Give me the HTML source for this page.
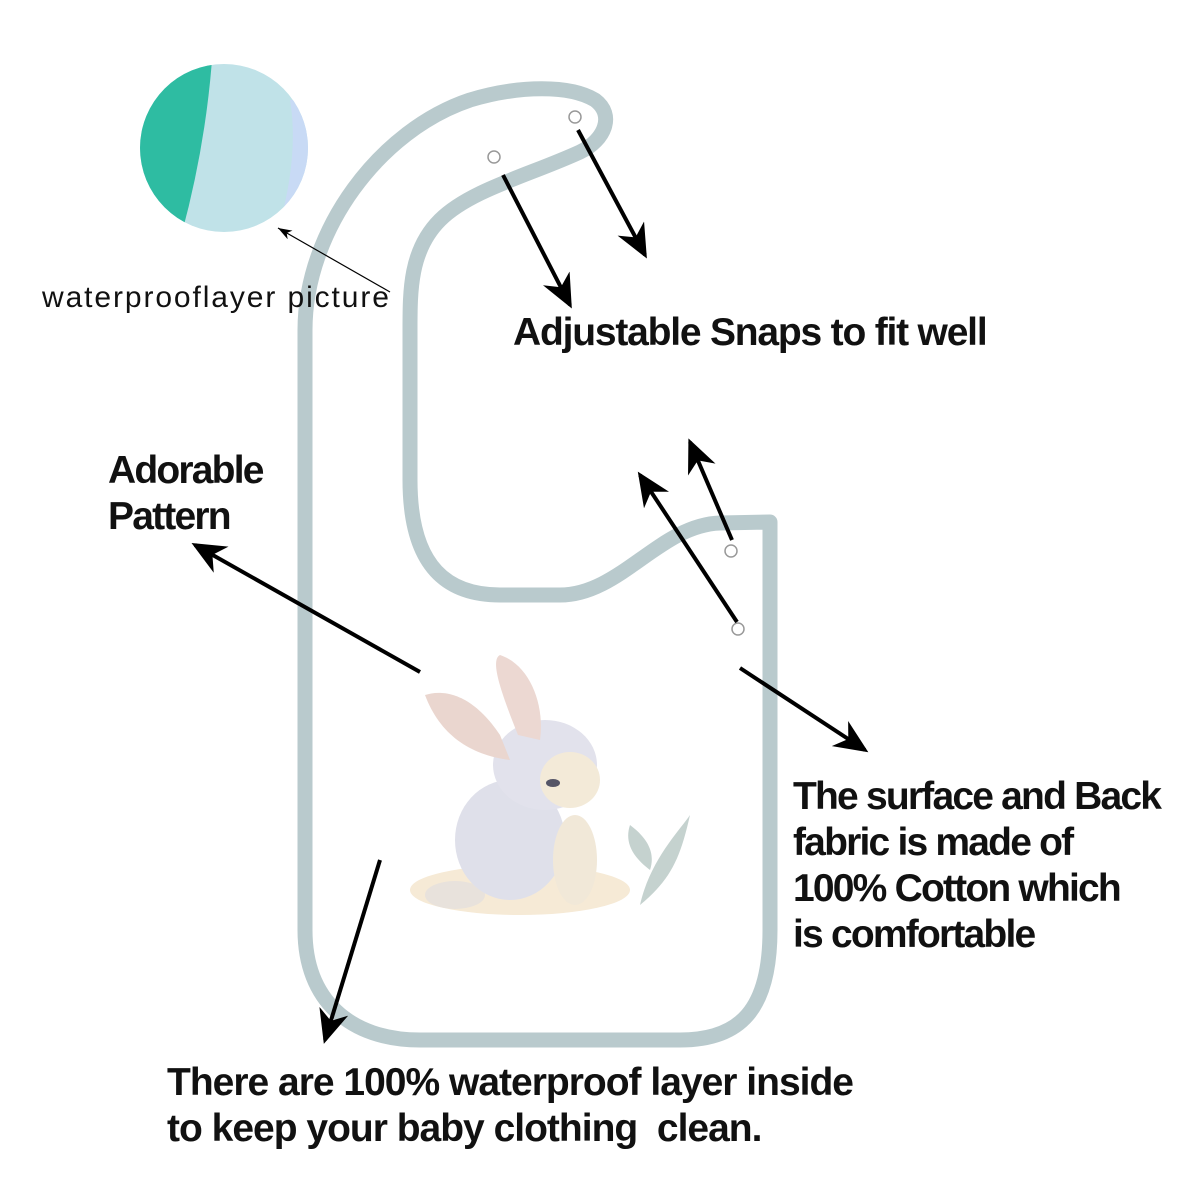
<!DOCTYPE html>
<html><head><style>
html,body{margin:0;padding:0;background:#fff}
.t{position:absolute;font-family:"Liberation Sans",sans-serif;color:#111;white-space:nowrap}
.b{font-size:39px;letter-spacing:-1.8px;line-height:46px;font-weight:bold}
</style></head><body>
<div style="position:relative;width:1200px;height:1200px;overflow:hidden">
<svg width="1200" height="1200" style="position:absolute;left:0;top:0">
<defs>
<clipPath id="c"><circle cx="224" cy="148" r="84"/></clipPath>
<marker id="a" markerWidth="34" markerHeight="30" refX="30" refY="15" orient="auto" markerUnits="userSpaceOnUse" viewBox="0 0 34 30"><path d="M0,0 L34,15 L0,30 L10,15z" fill="#000"/></marker>
<marker id="s" markerWidth="14" markerHeight="10" refX="0" refY="5" orient="auto" markerUnits="userSpaceOnUse" viewBox="0 0 14 10"><path d="M0,5 L14,0 L10,5 L14,10z" fill="#000"/></marker>
</defs>
<g clip-path="url(#c)">
<rect x="130" y="60" width="190" height="180" fill="#c0e2e8"/>
<path d="M130,60 L212,60 Q205,150 180,240 L130,240z" fill="#2ebca2"/>
<path d="M290,100 Q300,160 275,240 L320,240 L320,100z" fill="#c8daf5"/>
</g>
<path d="M305,330 C305,230 380,130 470,100 C520,85 570,85 595,100 C615,115 605,140 580,152 C530,175 470,190 440,220 C410,250 410,290 410,330 L410,480 C410,570 450,595 500,595 L560,595 C620,595 660,525 720,523 L770,522 L770,930 C770,1010 740,1040 680,1040 L420,1040 C350,1040 305,1000 305,930z" fill="#fff" stroke="#b9cacd" stroke-width="15" stroke-linejoin="round"/>
<g fill="#fff" stroke="#999" stroke-width="1.5"><circle cx="494" cy="157" r="6"/><circle cx="575" cy="117" r="6"/><circle cx="731" cy="551" r="6"/><circle cx="738" cy="629" r="6"/></g>
<ellipse cx="520" cy="890" rx="110" ry="25" fill="#f6ead6"/>
<ellipse cx="455" cy="895" rx="30" ry="14" fill="#e8e2dc"/>
<ellipse cx="510" cy="840" rx="55" ry="60" fill="#dfe0ea"/>
<ellipse cx="545" cy="765" rx="52" ry="45" fill="#e2e2ec"/>
<ellipse cx="570" cy="780" rx="30" ry="28" fill="#f3ead8"/>
<path d="M500,735 C470,690 440,690 425,695 C440,735 470,755 510,760z" fill="#ead6cf"/>
<path d="M518,735 C500,690 490,660 500,655 C530,665 545,705 540,740z" fill="#ecd8d2"/>
<ellipse cx="575" cy="860" rx="22" ry="45" fill="#f1e8d8"/>
<ellipse cx="553" cy="783" rx="7" ry="4" fill="#556"/>
<path d="M640,905 C650,860 680,830 690,815 C680,860 670,880 640,905z M650,870 C630,855 625,840 630,825 C650,840 655,855 650,870z" fill="#c5d2cf"/>
<g stroke="#000" stroke-width="4" marker-end="url(#a)" fill="none">
<line x1="503" y1="175" x2="570" y2="305"/>
<line x1="578" y1="130" x2="645" y2="255"/>
<line x1="420" y1="672" x2="195" y2="545"/>
<line x1="737" y1="622" x2="640" y2="475"/>
<line x1="732" y1="540" x2="690" y2="442"/>
<line x1="740" y1="668" x2="865" y2="750"/>
<line x1="380" y1="860" x2="325" y2="1040"/>
</g>
<line x1="278" y1="228" x2="390" y2="292" stroke="#000" stroke-width="1.2" marker-start="url(#s)"/>
</svg>
<div class="t" style="left:42px;top:281px;font-size:30px;letter-spacing:1.9px">waterprooflayer picture</div>
<div class="t b" style="left:513px;top:310px;letter-spacing:-1.2px">Adjustable Snaps to fit well</div>
<div class="t b" style="left:108px;top:448px">Adorable<br>Pattern</div>
<div class="t b" style="left:793px;top:774px">The surface and Back<br>fabric is made of<br>100% Cotton which<br>is comfortable</div>
<div class="t b" style="left:167px;top:1060px;letter-spacing:-1.0px">There are 100% waterproof layer inside<br>to keep your baby clothing&nbsp; clean.</div>
</div>
</body></html>
